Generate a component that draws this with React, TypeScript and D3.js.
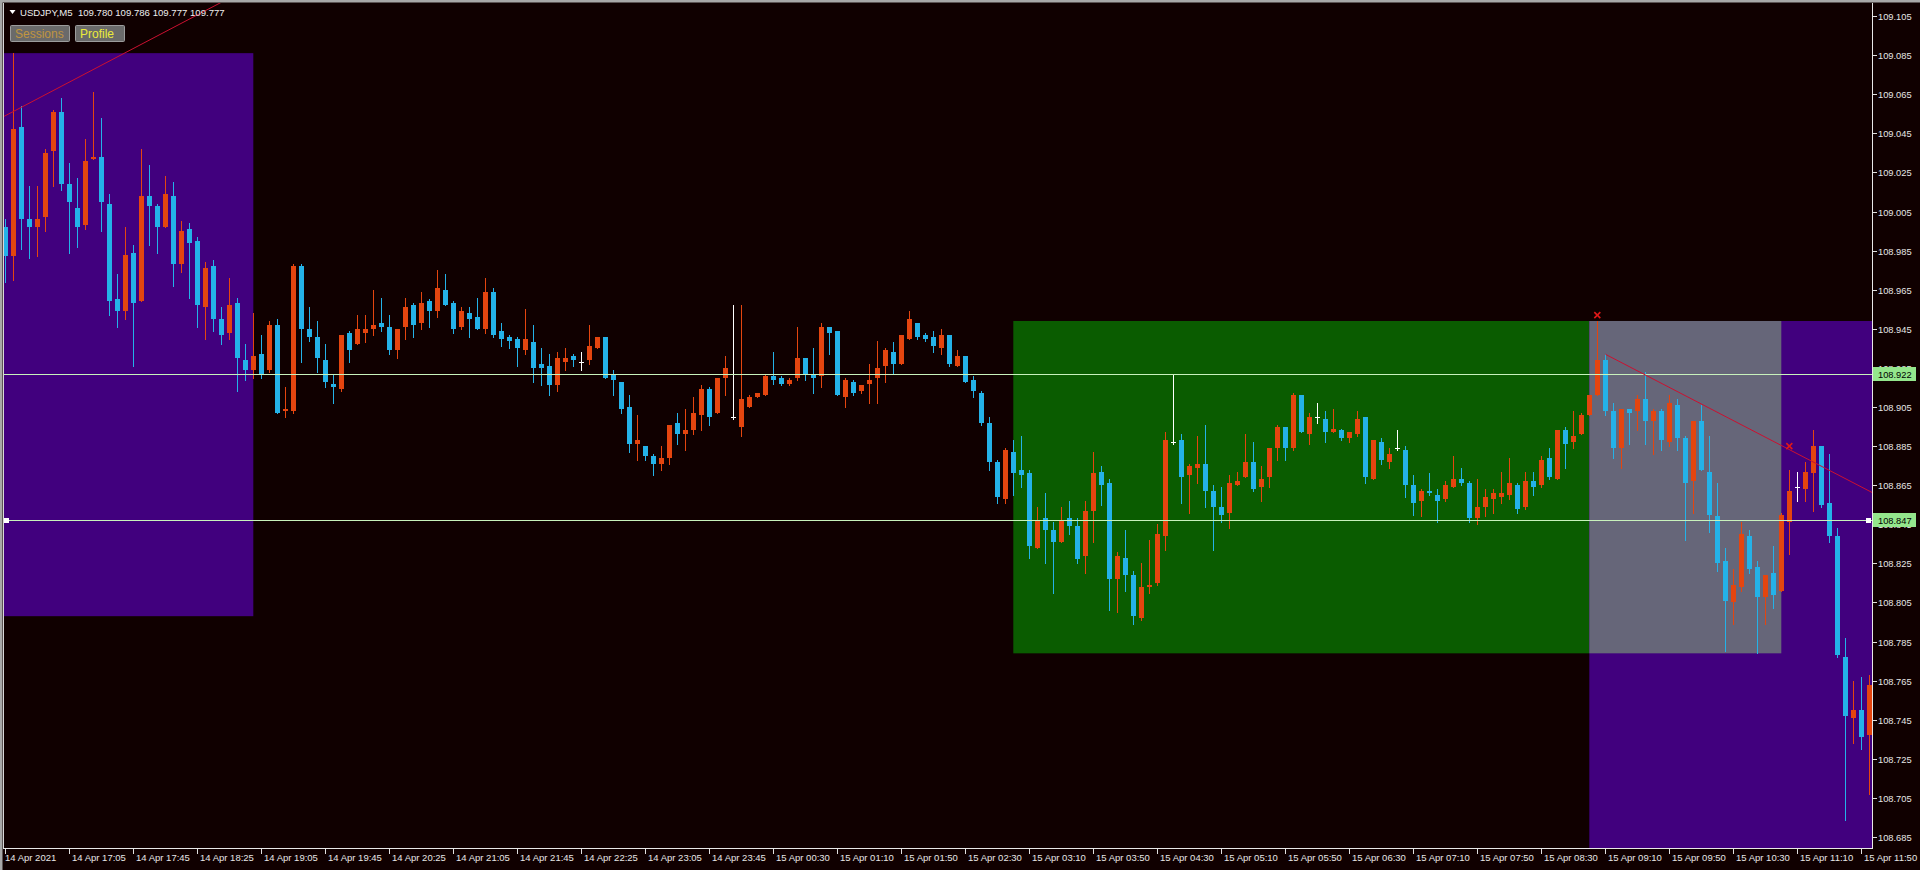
import React from "react";
import * as d3 from "d3";

// ---------- DATA (USDJPY, M5) ----------
const opens = [
  108.997,108.982,109.048,109.001,108.997,109.002,109.036,109.056,109.019,109.007,
  108.998,109.032,109.033,109.009,108.960,108.954,108.984,108.959,109.013,109.008,
  108.997,109.013,108.978,108.996,108.990,108.956,108.977,108.950,108.943,108.958,
  108.929,108.924,108.932,108.924,108.947,108.903,108.903,108.977,108.945,108.941,
  108.929,108.917,108.914,108.943,108.937,108.943,108.945,108.948,108.946,108.934,
  108.946,108.957,108.948,108.959,108.954,108.965,108.958,108.946,108.953,108.951,
  108.945,108.964,108.944,108.941,108.940,108.934,108.938,108.927,108.926,108.916,
  108.928,108.931,108.928,108.929,108.935,108.941,108.922,108.918,108.905,108.886,
  108.885,108.880,108.876,108.879,108.897,108.891,108.893,108.901,108.914,108.902,
  108.920,108.900,108.895,108.905,108.910,108.911,108.921,108.920,108.917,108.920,
  108.930,108.922,108.921,108.946,108.944,108.910,108.918,108.913,108.917,108.920,
  108.926,108.933,108.927,108.940,108.948,108.942,108.941,108.935,108.942,108.926,
  108.931,108.919,108.912,108.897,108.877,108.858,108.882,108.873,108.871,108.833,
  108.848,108.842,108.836,108.848,108.844,108.829,108.852,108.872,108.866,108.817,
  108.828,108.819,108.797,108.813,108.815,108.839,108.887,108.888,108.870,108.874,
  108.876,108.862,108.854,108.851,108.865,108.869,108.877,108.864,108.869,108.884,
  108.895,108.884,108.911,108.891,108.900,108.899,108.892,108.893,108.889,108.891,
  108.900,108.868,108.887,108.877,108.884,108.883,108.865,108.857,108.862,108.860,
  108.858,108.864,108.868,108.866,108.848,108.854,108.858,108.859,108.860,108.865,
  108.854,108.867,108.865,108.879,108.868,108.893,108.887,108.891,108.901,108.911,
  108.929,108.903,108.884,108.904,108.903,108.909,108.898,108.903,108.887,108.906,
  108.889,108.867,108.898,108.872,108.849,108.826,108.805,108.813,108.839,108.823,
  108.808,108.820,108.811,108.846,108.864,108.863,108.871,108.885,108.856,108.839,
  108.777,108.746,108.750,108.737
];
const highs = [
  109.001,109.086,109.059,109.018,109.018,109.037,109.057,109.063,109.030,109.022,
  109.042,109.066,109.053,109.014,108.973,108.997,108.988,109.037,109.029,109.009,
  109.023,109.020,109.000,108.999,108.992,108.979,108.980,108.956,108.971,108.961,
  108.937,108.953,108.942,108.949,108.950,108.915,108.978,108.978,108.956,108.949,
  108.937,108.922,108.942,108.944,108.952,108.952,108.965,108.961,108.952,108.945,
  108.961,108.958,108.964,108.960,108.975,108.973,108.959,108.956,108.956,108.961,
  108.971,108.966,108.948,108.942,108.941,108.955,108.947,108.935,108.932,108.933,
  108.935,108.932,108.933,108.947,108.941,108.941,108.924,108.918,108.911,108.901,
  108.885,108.881,108.885,108.896,108.902,108.904,108.910,108.916,108.915,108.920,
  108.931,108.957,108.957,108.911,108.912,108.922,108.933,108.921,108.920,108.946,
  108.930,108.935,108.948,108.946,108.944,108.920,108.919,108.916,108.927,108.939,
  108.935,108.938,108.942,108.954,108.948,108.943,108.944,108.945,108.942,108.934,
  108.931,108.921,108.913,108.900,108.878,108.884,108.888,108.890,108.873,108.854,
  108.861,108.846,108.854,108.857,108.848,108.857,108.882,108.875,108.868,108.831,
  108.842,108.821,108.825,108.837,108.845,108.892,108.922,108.891,108.876,108.890,
  108.896,108.865,108.864,108.870,108.872,108.891,108.887,108.875,108.884,108.896,
  108.895,108.912,108.911,108.902,108.907,108.903,108.904,108.894,108.892,108.903,
  108.900,108.888,108.889,108.884,108.893,108.885,108.870,108.863,108.871,108.863,
  108.867,108.880,108.874,108.867,108.868,108.863,108.863,108.872,108.879,108.866,
  108.872,108.872,108.880,108.884,108.893,108.895,108.903,108.902,108.911,108.949,
  108.932,108.907,108.904,108.904,108.911,108.923,108.904,108.904,108.911,108.909,
  108.890,108.898,108.906,108.890,108.866,108.833,108.822,108.846,108.842,108.826,
  108.819,108.834,108.851,108.873,108.872,108.877,108.893,108.885,108.881,108.843,
  108.787,108.765,108.767,108.768
];
const lows = [
  108.969,108.970,108.986,108.981,108.982,108.995,109.018,109.016,108.984,108.987,
  108.996,109.032,108.995,108.952,108.946,108.950,108.926,108.959,108.988,108.984,
  108.997,108.967,108.974,108.961,108.946,108.940,108.944,108.937,108.940,108.913,
  108.919,108.920,108.920,108.923,108.902,108.900,108.902,108.928,108.939,108.923,
  108.915,108.907,108.913,108.928,108.937,108.938,108.942,108.944,108.932,108.930,
  108.940,108.941,108.945,108.946,108.951,108.957,108.943,108.945,108.941,108.945,
  108.943,108.941,108.936,108.935,108.926,108.932,108.918,108.916,108.911,108.913,
  108.924,108.926,108.924,108.927,108.935,108.920,108.911,108.902,108.882,108.878,
  108.878,108.870,108.873,108.876,108.886,108.883,108.891,108.893,108.896,108.902,
  108.911,108.899,108.890,108.905,108.910,108.911,108.917,108.916,108.916,108.919,
  108.919,108.912,108.915,108.932,108.911,108.905,108.911,108.912,108.907,108.907,
  108.918,108.922,108.927,108.940,108.940,108.939,108.933,108.932,108.926,108.926,
  108.918,108.910,108.896,108.873,108.856,108.856,108.860,108.864,108.828,108.833,
  108.825,108.810,108.836,108.840,108.825,108.820,108.836,108.855,108.801,108.800,
  108.811,108.794,108.796,108.810,108.814,108.832,108.886,108.856,108.851,108.866,
  108.854,108.832,108.846,108.843,108.865,108.869,108.862,108.857,108.864,108.878,
  108.878,108.883,108.892,108.886,108.897,108.887,108.892,108.888,108.887,108.890,
  108.866,108.868,108.876,108.874,108.883,108.859,108.850,108.849,108.860,108.846,
  108.857,108.864,108.865,108.846,108.845,108.849,108.851,108.856,108.858,108.851,
  108.853,108.860,108.864,108.868,108.868,108.874,108.884,108.891,108.901,108.911,
  108.901,108.879,108.874,108.886,108.893,108.886,108.881,108.883,108.885,108.883,
  108.837,108.851,108.873,108.841,108.821,108.780,108.794,108.811,108.820,108.779,
  108.794,108.802,108.811,108.830,108.857,108.857,108.852,108.854,108.836,108.777,
  108.694,108.733,108.730,108.707
];
const closes = [
  108.982,109.047,109.001,108.997,109.001,109.035,109.056,109.019,109.010,108.997,
  109.031,109.033,109.010,108.959,108.954,108.983,108.958,109.013,109.008,108.997,
  109.014,108.978,108.995,108.989,108.957,108.976,108.950,108.942,108.957,108.930,
  108.924,108.931,108.922,108.947,108.902,108.904,108.977,108.945,108.941,108.930,
  108.918,108.915,108.942,108.934,108.945,108.945,108.947,108.946,108.934,108.945,
  108.956,108.947,108.958,108.954,108.966,108.957,108.945,108.954,108.950,108.945,
  108.964,108.942,108.940,108.939,108.935,108.940,108.925,108.925,108.916,108.930,
  108.930,108.929,108.928,108.936,108.941,108.920,108.919,108.904,108.886,108.888,
  108.880,108.876,108.879,108.896,108.891,108.893,108.902,108.914,108.900,108.920,
  108.925,108.900,108.909,108.910,108.912,108.921,108.919,108.917,108.919,108.930,
  108.922,108.920,108.946,108.943,108.911,108.919,108.912,108.916,108.919,108.925,
  108.934,108.927,108.942,108.950,108.941,108.940,108.936,108.942,108.927,108.931,
  108.918,108.913,108.897,108.877,108.859,108.883,108.871,108.870,108.834,108.847,
  108.842,108.836,108.847,108.844,108.827,108.852,108.871,108.865,108.817,108.829,
  108.819,108.798,108.813,108.814,108.840,108.888,108.887,108.869,108.875,108.876,
  108.862,108.854,108.850,108.866,108.867,108.877,108.863,108.868,108.884,108.895,
  108.884,108.911,108.892,108.900,108.900,108.892,108.894,108.889,108.892,108.899,
  108.869,108.888,108.878,108.881,108.884,108.865,108.856,108.862,108.861,108.857,
  108.865,108.868,108.866,108.848,108.854,108.859,108.861,108.861,108.866,108.853,
  108.867,108.864,108.878,108.869,108.893,108.886,108.890,108.901,108.911,108.929,
  108.903,108.884,108.904,108.902,108.909,108.898,108.903,108.888,108.907,108.889,
  108.866,108.898,108.873,108.850,108.825,108.806,108.814,108.840,108.822,108.808,
  108.819,108.809,108.850,108.862,108.864,108.872,108.885,108.855,108.839,108.778,
  108.747,108.750,108.736,108.763
];

const timeLabels = [
  "14 Apr 2021","14 Apr 17:05","14 Apr 17:45","14 Apr 18:25","14 Apr 19:05",
  "14 Apr 19:45","14 Apr 20:25","14 Apr 21:05","14 Apr 21:45","14 Apr 22:25",
  "14 Apr 23:05","14 Apr 23:45","15 Apr 00:30","15 Apr 01:10","15 Apr 01:50",
  "15 Apr 02:30","15 Apr 03:10","15 Apr 03:50","15 Apr 04:30","15 Apr 05:10",
  "15 Apr 05:50","15 Apr 06:30","15 Apr 07:10","15 Apr 07:50","15 Apr 08:30",
  "15 Apr 09:10","15 Apr 09:50","15 Apr 10:30","15 Apr 11:10","15 Apr 11:50"
];
const barsPerLabel = 8;

const priceTickLabels = [
  "109.105","109.085","109.065","109.045","109.025","109.005","108.985","108.965",
  "108.945","108.925","108.905","108.885","108.865","108.845","108.825","108.805",
  "108.785","108.765","108.745","108.725","108.705","108.685"
];

// session rectangles: bar range and price range
const sessionFrom = [-30, 126, 198, 198];
const sessionTo = [31, 198, 240, 222];
const sessionTop = [109.086, 108.949, 108.949, 108.949];
const sessionBottom = [108.798, 108.779, 108.55, 108.779];
const sessionKind = ["asia", "london", "ny", "overlap"];

const hLinePrices = [108.922, 108.847];
const hLineLabels = ["108.922", "108.847"];

// trend lines: [bar, price] pairs
const trend1 = [[0, 109.054], [27, 109.112]];
const trend2 = [[200, 108.932], [233, 108.862]];
const markerBars = [199, 223];
const markerPrices = [108.952, 108.885];

const headerText = "USDJPY,M5  109.780 109.786 109.777 109.777";

// ---------- STYLE ----------
const BG = "#100000";
const BULL = "#e4450f";
const BEAR = "#24b2e8";
const DOJI = "#ffffff";
const SESSION_COLORS: Record<string, string> = {
  asia: "#41007e",
  london: "#0a5c00",
  ny: "#41007e",
  overlap: "#666679",
};
const FONT = "'Liberation Sans', Arial, sans-serif";

export default function App() {
  const W = 1920, H = 870;
  const plot = { left: 4, right: 1872, top: 3, bottom: 848 };
  const x = d3.scaleLinear().domain([0, 233]).range([5.3, 1869.3]);
  const y = d3.scaleLinear().domain([108.685, 109.105]).range([837.1, 16]);

  const lineThrough = (p: number[][], extendLeft: boolean) => {
    const [a, b] = p;
    const slope = (b[1] - a[1]) / (b[0] - a[0]);
    const x0 = extendLeft ? -10 : a[0];
    const x1 = 250;
    return {
      x1: x(x0), y1: y(a[1] + slope * (x0 - a[0])),
      x2: x(x1), y2: y(a[1] + slope * (x1 - a[0])),
    };
  };
  const t1 = lineThrough(trend1, true);
  const t2 = lineThrough(trend2, false);

  return (
    <svg width={W} height={H} style={{ position: "absolute", left: 0, top: 0, display: "block" }}>
      <defs>
        <clipPath id="plot">
          <rect x={plot.left} y={plot.top} width={plot.right - plot.left} height={plot.bottom - plot.top} />
        </clipPath>
      </defs>
      <rect x={0} y={0} width={W} height={H} fill={BG} />
      {/* window frame */}
      <rect x={0} y={0} width={W} height={2.5} fill="#a8a8a8" />
      <rect x={0} y={0} width={2.5} height={H} fill="#a8a8a8" />

      <g clipPath="url(#plot)">
        {sessionKind.map((k, i) => (
          <rect key={k}
            x={x(sessionFrom[i])} y={y(sessionTop[i])}
            width={x(sessionTo[i]) - x(sessionFrom[i])}
            height={y(sessionBottom[i]) - y(sessionTop[i])}
            fill={SESSION_COLORS[k]} />
        ))}

        {opens.map((o, i) => {
          const c = closes[i], h = highs[i], l = lows[i];
          const cx = Math.round(x(i));
          const col = c > o ? BULL : c < o ? BEAR : DOJI;
          const yTop = Math.round(y(Math.max(o, c)));
          const yBot = Math.round(y(Math.min(o, c)));
          return (
            <g key={i}>
              <line x1={cx + 0.5} x2={cx + 0.5} y1={Math.round(y(h))} y2={Math.round(y(l)) + 1} stroke={col} strokeWidth={1} />
              {c === o ? (
                <line x1={cx - 2} x2={cx + 3} y1={yTop + 0.5} y2={yTop + 0.5} stroke={col} strokeWidth={1} />
              ) : (
                <rect x={cx - 2} y={yTop} width={5} height={Math.max(1, yBot - yTop)} fill={col} />
              )}
            </g>
          );
        })}

        {hLinePrices.map((p) => (
          <line key={p} x1={plot.left} x2={plot.right} y1={Math.round(y(p)) + 0.5} y2={Math.round(y(p)) + 0.5}
            stroke="#c8f2bc" strokeWidth={1} />
        ))}
        {/* selection anchors of the lower line */}
        <rect x={plot.left} y={Math.round(y(hLinePrices[1])) - 2} width={5} height={5} fill="#ffffff" />
        <rect x={plot.right - 6} y={Math.round(y(hLinePrices[1])) - 2} width={5} height={5} fill="#ffffff" />

        <line {...t1} stroke="#cc1030" strokeWidth={1} />
        <line {...t2} stroke="#cc1030" strokeWidth={1} />

        {markerBars.map((b, i) => {
          const mx = x(b), my = y(markerPrices[i]);
          return (
            <g key={b} stroke="#e01818" strokeWidth={1.6}>
              <line x1={mx - 3} x2={mx + 3} y1={my - 3} y2={my + 3} />
              <line x1={mx - 3} x2={mx + 3} y1={my + 3} y2={my - 3} />
            </g>
          );
        })}
      </g>

      {/* frame lines */}
      <line x1={3.5} x2={3.5} y1={3} y2={plot.bottom} stroke="#d8d8d8" />
      <line x1={plot.right + 0.5} x2={plot.right + 0.5} y1={3} y2={plot.bottom + 1} stroke="#e8e8e8" />
      <line x1={3} x2={plot.right + 1} y1={plot.bottom + 0.5} y2={plot.bottom + 0.5} stroke="#e8e8e8" />

      {/* price axis */}
      {priceTickLabels.map((t) => {
        const py = Math.round(y(+t)) + 0.5;
        return (
          <g key={t}>
            <line x1={plot.right + 1} x2={plot.right + 5} y1={py} y2={py} stroke="#e0e0e0" />
            <text x={1878} y={py + 3.5} fill="#e6e6e6" fontSize={9.3} fontFamily={FONT}>{t}</text>
          </g>
        );
      })}
      {hLinePrices.map((p, i) => {
        const py = Math.round(y(p));
        return (
          <g key={p}>
            <rect x={plot.right + 1} y={py - 7} width={43} height={14} fill="#94e68c" />
            <text x={1878} y={py + 4} fill="#000000" fontSize={9.3} fontFamily={FONT}>{hLineLabels[i]}</text>
          </g>
        );
      })}

      {/* time axis */}
      {timeLabels.map((t, j) => {
        const tx = Math.round(x(j * barsPerLabel)) + 0.5;
        return (
          <g key={t}>
            <line x1={tx} x2={tx} y1={plot.bottom + 1} y2={plot.bottom + 6} stroke="#e0e0e0" />
            <text x={j === 0 ? 5 : tx + 2.5} y={861} fill="#e6e6e6" fontSize={9.5} fontFamily={FONT}>{t}</text>
          </g>
        );
      })}

      {/* header */}
      <path d="M9.5,10 L15.5,10 L12.5,14 Z" fill="#ffffff" />
      <text x={20} y={16} fill="#eeeeee" fontSize={9.6} fontFamily={FONT} style={{ whiteSpace: "pre" }}>{headerText}</text>

      {/* buttons */}
      <rect x={10.5} y={25.5} width={59} height={16} fill="#6a6a6a" stroke="#9c9c9c" rx={1} />
      <text x={15} y={38} fill="#c09540" fontSize={12} fontFamily={FONT}>Sessions</text>
      <rect x={75.5} y={25.5} width={49} height={16} fill="#6a6a6a" stroke="#9c9c9c" rx={1} />
      <text x={80} y={38} fill="#eaea3a" fontSize={12} fontFamily={FONT}>Profile</text>
    </svg>
  );
}
